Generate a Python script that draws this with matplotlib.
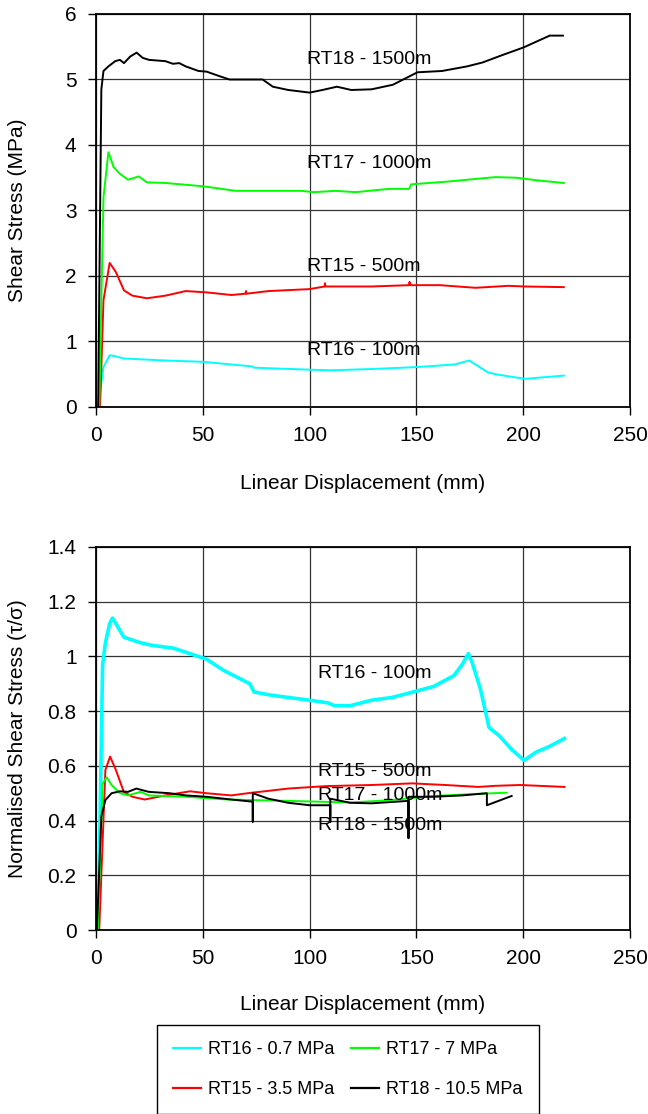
import matplotlib
matplotlib.use("Agg")
import matplotlib.pyplot as plt
from matplotlib.ticker import FuncFormatter
from matplotlib.lines import Line2D

plt.rcParams["font.family"] = ["Liberation Sans", "DejaVu Sans"]

# ---- top chart: shear stress (MPa) ----
rt18_x = [1.0, 2.5, 3.5, 5.8, 9, 11.2, 13.1, 16, 19, 21.9, 24.8, 32.5, 36, 39, 42, 48, 51.8, 57,
          62.5, 70, 78, 82.8, 90, 100, 106, 112.8, 119.5, 129, 139, 150.5, 162, 173.7, 181, 190,
          200.2, 212.4, 218.6]
rt18_y = [0, 4.85, 5.13, 5.2, 5.28, 5.3, 5.25, 5.35, 5.41, 5.33, 5.3, 5.28, 5.24, 5.25, 5.2, 5.13,
          5.12, 5.06, 5.0, 5.0, 5.0, 4.89, 4.84, 4.8, 4.84, 4.89, 4.84, 4.85, 4.92, 5.11, 5.13, 5.2,
          5.26, 5.37, 5.49, 5.67, 5.67]

rt17_x = [1.5, 3.5, 5.8, 8.3, 11.2, 15, 20, 23.8, 32.5, 50, 65.4, 96, 102, 112, 121.5, 137, 146.6,
          147.6, 164, 187, 197, 206.6, 219]
rt17_y = [0, 3.2, 3.89, 3.66, 3.56, 3.47, 3.52, 3.43, 3.42, 3.37, 3.3, 3.3, 3.28, 3.3, 3.28, 3.33,
          3.33, 3.4, 3.44, 3.51, 3.5, 3.46, 3.42]

rt15_x = [1.9, 3.5, 6.4, 9.3, 13.1, 17, 23.8, 32.5, 42, 51.8, 63.4, 70, 70.2, 70.4, 80.8, 100,
          107, 107.2, 107.4, 129, 146.6, 146.8, 147, 161, 177.6, 193, 200.8, 219]
rt15_y = [0, 1.63, 2.2, 2.06, 1.78, 1.7, 1.66, 1.7, 1.77, 1.75, 1.71, 1.73, 1.77, 1.73, 1.77, 1.8,
          1.84, 1.89, 1.84, 1.84, 1.86, 1.91, 1.86, 1.86, 1.82, 1.85, 1.84, 1.83]

rt16_x = [1.0, 3.5, 6.4, 8.3, 13.1, 32.5, 50, 73, 74, 100, 110, 129, 150.5, 168, 174.7, 183.4,
          187, 200.8, 219]
rt16_y = [0, 0.61, 0.79, 0.78, 0.74, 0.71, 0.69, 0.62, 0.6, 0.57, 0.56, 0.58, 0.61, 0.65, 0.71,
          0.53, 0.5, 0.43, 0.48]

# ---- bottom chart: normalised shear stress ----
n16_x = [1.0, 3.1, 4.4, 6.4, 7.7, 9.3, 13.1, 20.8, 26.6, 36.3, 44, 51.7, 59.5, 67, 72, 74, 80.7,
         90, 100, 108.7, 111.6, 119, 129, 138.6, 146, 158, 167.6, 171.4, 174.3, 176, 180, 184,
         188.8, 194.6, 200.4, 206, 212, 219.3]
n16_y = [0, 0.97, 1.05, 1.12, 1.14, 1.12, 1.07, 1.05, 1.04, 1.03, 1.01, 0.99, 0.95, 0.92, 0.9,
         0.87, 0.86, 0.85, 0.84, 0.83, 0.82, 0.82, 0.84, 0.85, 0.865, 0.89, 0.93, 0.97, 1.01, 0.98,
         0.88, 0.74, 0.71, 0.66, 0.62, 0.65, 0.67, 0.70]

n15_x = [1.5, 4.4, 6.6, 9.3, 13, 17, 22.8, 32.4, 44, 51.7, 63.3, 71, 90, 107.7, 129, 148, 163.6,
         179, 186.9, 198.5, 219.3]
n15_y = [0, 0.585, 0.634, 0.585, 0.505, 0.487, 0.477, 0.492, 0.507, 0.5, 0.492, 0.5, 0.517, 0.526,
         0.53, 0.536, 0.53, 0.523, 0.527, 0.53, 0.523]

n17_x = [0.8, 3.1, 5, 7.3, 11.2, 15, 20.8, 24.7, 42, 61.4, 90, 119, 138.6, 158, 177, 192.3]
n17_y = [0, 0.535, 0.558, 0.53, 0.5, 0.492, 0.505, 0.492, 0.487, 0.477, 0.472, 0.466, 0.475,
         0.49, 0.497, 0.502]

n18_x = [0.4, 2.5, 4.4, 7.3, 11.2, 15, 18.9, 21.8, 24.7, 34.4, 42, 51.7, 63.3, 73.4, 73.4, 73.4,
         80.7, 90, 100, 109.7, 109.7, 109.7, 119, 129, 146.3, 146.3, 146.3, 158, 171.4, 183, 183,
         194.6]
n18_y = [0, 0.415, 0.475, 0.5, 0.507, 0.505, 0.517, 0.511, 0.505, 0.5, 0.492, 0.487, 0.477,
         0.469, 0.396, 0.5, 0.48, 0.465, 0.456, 0.456, 0.396, 0.48, 0.465, 0.463, 0.472, 0.336,
         0.487, 0.487, 0.492, 0.5, 0.456, 0.49]

top_labels = ["RT18 - 1500m", "RT17 - 1000m", "RT15 - 500m", "RT16 - 100m"]
top_label_y = [5.31, 3.71, 2.15, 0.86]
bot_labels = ["RT16 - 100m", "RT15 - 500m", "RT17 - 1000m", "RT18 - 1500m"]
bot_label_y = [0.937, 0.579, 0.492, 0.383]
legend_names = ["RT16 - 0.7 MPa", "RT15 - 3.5 MPa", "RT17 - 7 MPa", "RT18 - 10.5 MPa"]

CYAN, RED, GREEN, BLACK = "#00FFFF", "#FF0000", "#00FF00", "#000000"

fig = plt.figure(figsize=(6.48, 11.14), dpi=100)
ax1 = fig.add_axes([96 / 648, 707 / 1114, 534 / 648, 393 / 1114])
ax2 = fig.add_axes([96 / 648, 184 / 1114, 534 / 648, 383 / 1114])

ax1.plot(rt16_x, rt16_y, color=CYAN, lw=1.4)
ax1.plot(rt15_x, rt15_y, color=RED, lw=1.4)
ax1.plot(rt17_x, rt17_y, color=GREEN, lw=1.4)
ax1.plot(rt18_x, rt18_y, color=BLACK, lw=1.4)
ax1.set_ylim(0, 6)
ax1.set_yticks(range(0, 7))
ax1.set_ylabel("Shear Stress (MPa)")
for txt, y in zip(top_labels, top_label_y):
    ax1.text(99, y, txt, fontsize=14, va="center", ha="left")

ax2.plot(n16_x, n16_y, color=CYAN, lw=2.6)
ax2.plot(n15_x, n15_y, color=RED, lw=1.4)
ax2.plot(n17_x, n17_y, color=GREEN, lw=1.4)
ax2.plot(n18_x, n18_y, color=BLACK, lw=1.4)
ax2.set_ylim(0, 1.4)
ax2.set_yticks([0, 0.2, 0.4, 0.6, 0.8, 1.0, 1.2, 1.4])
ax2.set_ylabel("Normalised Shear Stress (\u03c4/\u03c3)")
for txt, y in zip(bot_labels, bot_label_y):
    ax2.text(104, y, txt, fontsize=14, va="center", ha="left")

fmt = FuncFormatter(lambda v, p: "%g" % round(v, 2))
for ax in (ax1, ax2):
    ax.set_xlim(0, 250)
    ax.set_xticks(range(0, 251, 50))
    ax.yaxis.set_major_formatter(fmt)
    ax.set_xlabel("Linear Displacement (mm)", fontsize=15)
    ax.yaxis.label.set_fontsize(15)
    ax.grid(True, color="#333333", lw=0.9)
    ax.set_axisbelow(True)
    ax.tick_params(labelsize=15, length=6, width=1, direction="out", pad=8)
    for s in ax.spines.values():
        s.set_linewidth(1.3)
    ax.yaxis.set_label_coords(-0.13, 0.5)
    ax.xaxis.set_label_coords(0.5, -0.17)

handles = [Line2D([], [], color=c, lw=1.6) for c in (CYAN, RED, GREEN, BLACK)]
fig.legend(handles, legend_names, ncol=2, loc="upper left",
           bbox_to_anchor=(157 / 648, 1 - 1025 / 1114), borderaxespad=0, fontsize=13,
           frameon=True, fancybox=False, edgecolor="black", framealpha=1, handlelength=1.55,
           handletextpad=0.4, columnspacing=0.9, labelspacing=1.25, borderpad=0.9)

fig.savefig("out.png", dpi=100)
